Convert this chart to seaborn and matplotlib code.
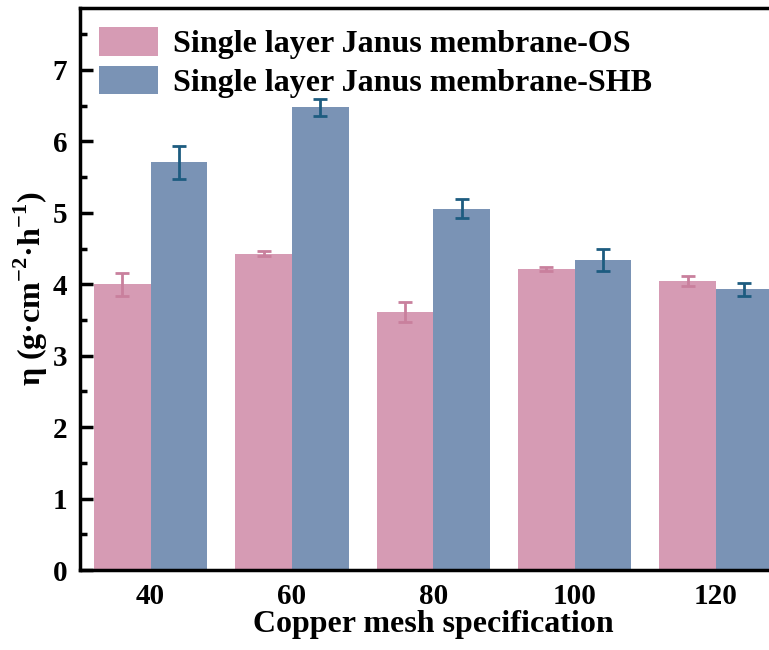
import numpy as np
import pandas as pd
import seaborn as sns
import matplotlib.pyplot as plt
from matplotlib.ticker import MultipleLocator

# %% DATA

mesh = [40, 60, 80, 100, 120]
eta_os = [4.00, 4.43, 3.61, 4.21, 4.05]
err_os = [0.16, 0.04, 0.14, 0.03, 0.07]
eta_shb = [5.71, 6.48, 5.06, 4.34, 3.93]
err_shb = [0.23, 0.12, 0.13, 0.16, 0.09]
labels = ['Single layer Janus membrane-OS', 'Single layer Janus membrane-SHB']

data = pd.concat([
    pd.DataFrame({'Mesh': mesh, 'Eta': eta_os, 'Err': err_os, 'Membrane': labels[0]}),
    pd.DataFrame({'Mesh': mesh, 'Eta': eta_shb, 'Err': err_shb, 'Membrane': labels[1]}),
])

bar_colors = ['#D69BB4', '#7A93B5']
err_colors = ['#C9809D', '#1D5C80']

# %% STYLE

sns.set_style('ticks')
plt.rcParams['font.family'] = ['Liberation Serif', 'DejaVu Serif']
plt.rcParams['font.weight'] = 'bold'
plt.rcParams['mathtext.fontset'] = 'custom'
plt.rcParams['mathtext.rm'] = 'Liberation Serif:bold'
plt.rcParams['mathtext.bf'] = 'Liberation Serif:bold'
for key in ['text.color', 'axes.labelcolor', 'xtick.color', 'ytick.color', 'axes.edgecolor']:
    plt.rcParams[key] = 'black'

# %% PLOT

fig = plt.figure(figsize=(7.69, 6.5), dpi=100)
ax = fig.add_axes([0.104, 0.123, 0.919, 0.865])

sns.barplot(
    data=data, x='Mesh', y='Eta', hue='Membrane',
    hue_order=labels, palette=bar_colors,
    native_scale=True, width=0.8, errorbar=None,
    saturation=1, linewidth=0, ax=ax,
)

for cont, err, col in zip(ax.containers, [err_os, err_shb], err_colors):
    xs = [b.get_x() + b.get_width() / 2 for b in cont]
    ys = [b.get_height() for b in cont]
    ax.errorbar(xs, ys, yerr=err, fmt='none', ecolor=col,
                elinewidth=2, capsize=5, capthick=2)

ax.set_xlim(30, 130)
ax.set_ylim(0, 7.87)
ax.set_xticks(mesh)
ax.yaxis.set_major_locator(MultipleLocator(1))
ax.yaxis.set_minor_locator(MultipleLocator(0.5))

ax.set_xlabel('Copper mesh specification', fontsize=23, fontweight='bold', labelpad=0)
ax.set_ylabel(r'η (g·cm$^{-2}$·h$^{-1}$)', fontsize=23, fontweight='bold', labelpad=2)
ax.tick_params(axis='both', which='major', direction='in', length=9, width=2.5,
               labelsize=21, pad=9)
ax.tick_params(axis='y', which='minor', direction='in', length=5, width=2.5)
ax.tick_params(axis='x', which='minor', bottom=False)
for lab in ax.get_xticklabels() + ax.get_yticklabels():
    lab.set_fontweight('bold')

for side in ['left', 'bottom', 'top', 'right']:
    ax.spines[side].set_linewidth(2.5)

ax.legend(
    loc='upper left', frameon=False,
    handlelength=1.85, handleheight=1.0, handletextpad=0.45,
    labelspacing=0.2, borderaxespad=0.2, bbox_to_anchor=(0.0, 1.0),
    prop={'weight': 'bold', 'size': 23},
)

fig.savefig('out.png', dpi=100)
